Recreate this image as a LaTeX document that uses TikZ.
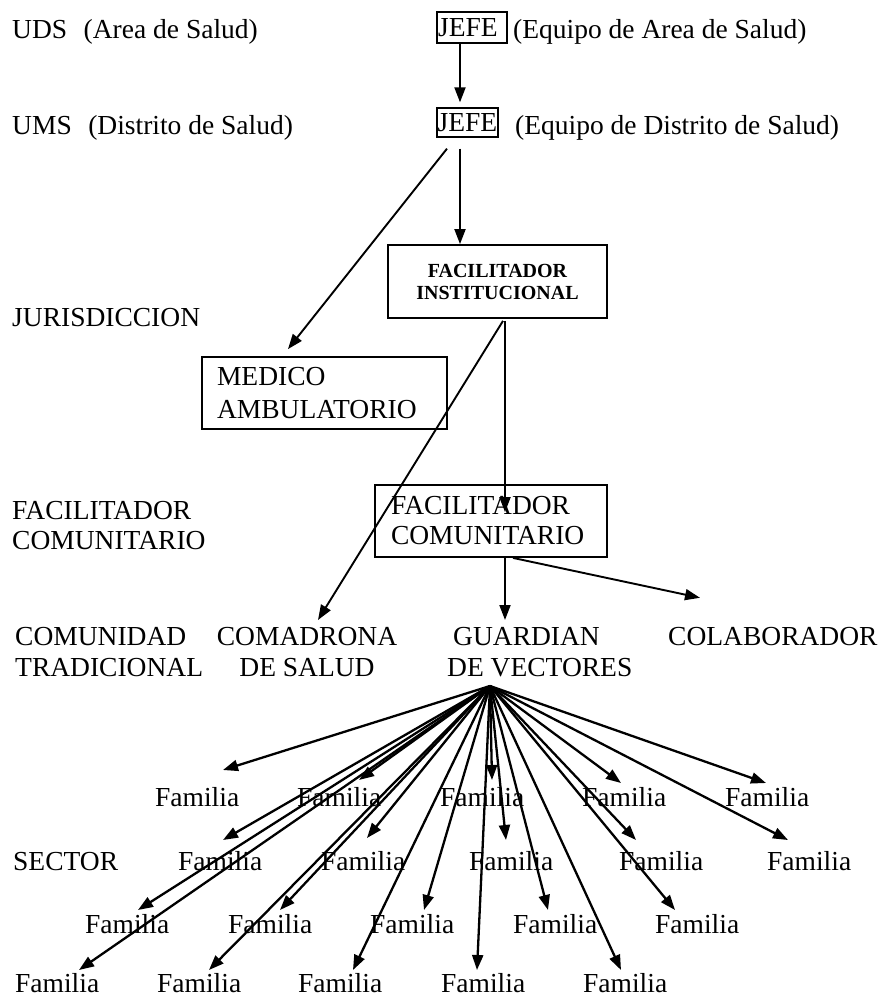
\documentclass[tikz,border=0pt]{standalone}
\usepackage{fontspec}
\setmainfont{Liberation Serif}
\usetikzlibrary{arrows.meta}
\begin{document}
\begin{tikzpicture}[x=1pt,y=-1pt,
  txt/.style={inner sep=0pt, font=\fontsize{27.5}{31}\selectfont},
  box/.style={draw, line width=1.8pt, inner sep=0pt},
  arr/.style={line width=1.9pt, -{Triangle[length=15pt,width=11pt]}},
  fanarr/.style={line width=2.3pt, -{Triangle[length=15pt,width=11pt]}},
  fam/.style={txt, anchor=base west}]

\useasboundingbox (0,0) rectangle (882,999);

% top rows
\node[txt, anchor=base west] (uds) at (12,38) {UDS\hspace{0.6em}(Area de Salud)};
\node[box, txt, line width=1.3pt, minimum width=70pt, minimum height=31pt] (jefe1) at (472,27.5) {JEFE\hspace*{8pt}};
\node[txt, anchor=base west] (eq1) at (513,38) {(Equipo de Area de Salud)};

\node[txt, anchor=base west] (ums) at (12,134) {UMS\hspace{0.6em}(Distrito de Salud)};
\node[box, txt, line width=1.3pt, minimum width=61pt, minimum height=29pt] (jefe2) at (467.5,122.5) {JEFE};
\node[txt, anchor=base west] (eq2) at (515,134) {(Equipo de Distrito de Salud)};

% jurisdiccion
\node[box, minimum width=219pt, minimum height=73pt, align=center,
      font=\bfseries\fontsize{20}{22}\selectfont] (fi) at (497.5,281.5) {FACILITADOR\\INSTITUCIONAL};
\node[txt, anchor=base west] (jur) at (12,326) {JURISDICCION};
\node[box, txt, minimum height=72pt, text width=215pt, inner xsep=15pt, align=left,
      font=\fontsize{27.5}{33}\selectfont] (med) at (324.5,393) {MEDICO\\AMBULATORIO};

% facilitador comunitario
\node[txt, anchor=north west, align=left, font=\fontsize{27.5}{30}\selectfont] (fcl) at (12,500.8) {FACILITADOR\\COMUNITARIO};
\node[box, txt, minimum height=72pt, text width=200pt, inner xsep=16pt, align=left,
      font=\fontsize{27.5}{30}\selectfont] (fc) at (491,521) {FACILITADOR\\COMUNITARIO};

% comunidad row
\node[txt, anchor=north west, align=left] (com) at (15,626.8) {COMUNIDAD\\TRADICIONAL};
\node[txt, anchor=north, align=center] (coma) at (307,626.8) {COMADRONA\\DE SALUD};
\node[txt, anchor=north west, align=left] (guard) at (447,626.8) {\hspace*{6pt}GUARDIAN\\DE VECTORES};
\node[txt, anchor=base west] (colab) at (668,645) {COLABORADOR};

\coordinate (fan) at (490,686);

% sector
\node[txt, anchor=base west] (sector) at (13,870) {SECTOR};

\node[fam] (fA1) at (155,806) {Familia};
\node[fam] (fA2) at (297,806) {Familia};
\node[fam] (fA3) at (440,806) {Familia};
\node[fam] (fA4) at (582,806) {Familia};
\node[fam] (fA5) at (725,806) {Familia};

\node[fam] (fB1) at (178,870) {Familia};
\node[fam] (fB2) at (321,870) {Familia};
\node[fam] (fB3) at (469,870) {Familia};
\node[fam] (fB4) at (619,870) {Familia};
\node[fam] (fB5) at (767,870) {Familia};

\node[fam] (fC1) at (85,933) {Familia};
\node[fam] (fC2) at (228,933) {Familia};
\node[fam] (fC3) at (370,933) {Familia};
\node[fam] (fC4) at (513,933) {Familia};
\node[fam] (fC5) at (655,933) {Familia};

\node[fam] (fD1) at (15,992) {Familia};
\node[fam] (fD2) at (157,992) {Familia};
\node[fam] (fD3) at (298,992) {Familia};
\node[fam] (fD4) at (441,992) {Familia};
\node[fam] (fD5) at (583,992) {Familia};

% connectors
\draw[arr] ([shift={(-12,0)}]jefe1.south) -- ([shift={(-7.5,-5)}]jefe2.north);
\draw[arr] ([shift={(-20.5,11)}]jefe2.south) -- ([shift={(-36.5,-7)}]med.north);
\draw[arr] ([shift={(-7.5,11)}]jefe2.south) -- ([shift={(-37.5,0)}]fi.north);
\draw[arr] ([shift={(5.5,2)}]fi.south) -- ([shift={(11,-6.8)}]coma.north);
\draw[arr] ([shift={(7.5,2)}]fi.south) -- ([shift={(14,28)}]fc.north);
\draw[arr] ([shift={(14,0)}]fc.south) -- ([shift={(58,-6.8)}]guard.north west);
\draw[arr] ([shift={(22,0)}]fc.south) -- ([shift={(32,-28.8)}]colab.north west);

\foreach \n/\dx/\dy in {fA1/68/-36, fA2/62/-26, fA3/52/-26, fA4/39/-23, fA5/41/-23,
                        fB1/45/-30, fB2/46/-32, fB3/37/-30, fB4/17/-30, fB5/21/-30,
                        fC1/53/-23, fC2/52/-23, fC3/54/-23, fC4/35/-23, fC5/20/-23,
                        fD1/64/-22, fD2/52/-22, fD3/55/-22, fD4/36/-22, fD5/38/-22}
  \draw[fanarr] (fan) -- ([shift={(\dx,\dy)}]\n.base west);
\end{tikzpicture}
\end{document}
